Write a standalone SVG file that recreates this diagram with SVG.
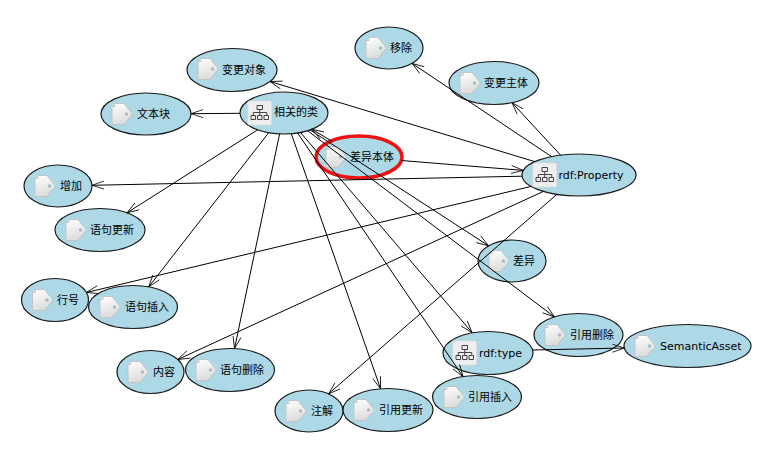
<svg xmlns="http://www.w3.org/2000/svg" width="773" height="460" viewBox="0 0 773 460">
<style>
.n{fill:#add8e6;stroke:#1a1a1a;stroke-width:1.2}
.sel{fill:#add8e6;stroke:#ee1111;stroke-width:3.5}
text{font-family:"DejaVu Sans","Noto Sans CJK SC",sans-serif;font-size:11px;fill:#000}
.e line{stroke:#000;stroke-width:1;marker-end:url(#a);fill:none}
</style>
<defs>
<linearGradient id="g" x1="0" y1="0" x2="0.3" y2="1"><stop offset="0" stop-color="#fff"/><stop offset="1" stop-color="#dcdcdc"/></linearGradient>
<marker id="a" markerUnits="userSpaceOnUse" markerWidth="14" markerHeight="12" refX="12.500" refY="6" orient="auto"><path d="M0.500,2L12.500,6L0.500,10" fill="none" stroke="#000" stroke-width="0.800"/></marker>
<g id="tag"><path d="M4,-10.500H13L21.500,0L13,10.500H1V-7.500Z" fill="url(#g)" stroke="#c4c4c4" stroke-width="1"/><path d="M1,-7.500L4,-7.500V-10.500" fill="none" stroke="#c4c4c4"/><circle cx="15.500" cy="0" r="1.700" fill="#a5bcc6"/></g>
<g id="cls"><rect x="0" y="-12" width="23.500" height="24" rx="1.500" fill="#eeeeee" stroke="#dddddd"/><path d="M9,-7.500h5.500v4h-5.500zM3,2.500h4.500v4h-4.500zM9.500,2.500h4.500v4h-4.500zM16,2.500h4.500v4h-4.500zM11.750,-3.500v3M5.250,2.500v-3h13.500v3M11.750,-0.500v3" fill="none" stroke="#444" stroke-width="1"/></g>
</defs>
<g id="n1"><ellipse class="n" cx="232" cy="70" rx="45" ry="21.500"/><use href="#tag" x="197" y="69"/><text x="222" y="74">变更对象</text></g>
<g id="n2"><ellipse class="n" cx="389" cy="48" rx="34" ry="21"/><use href="#tag" x="365" y="48"/><text x="390" y="52">移除</text></g>
<g id="n3"><ellipse class="n" cx="494" cy="83" rx="45" ry="21.500"/><use href="#tag" x="459" y="83"/><text x="484" y="87">变更主体</text></g>
<g id="n4"><ellipse class="n" cx="146" cy="114" rx="45" ry="21"/><use href="#tag" x="111" y="114"/><text x="137" y="118">文本块</text></g>
<g id="n5"><ellipse class="n" cx="284" cy="113" rx="44" ry="21"/><use href="#cls" x="248" y="113"/><text x="274" y="116">相关的类</text></g>
<g id="n6"><ellipse class="sel" cx="359" cy="157" rx="43" ry="21"/><use href="#tag" x="325" y="157"/><text x="350" y="161">差异本体</text></g>
<g id="n7"><ellipse class="n" cx="58" cy="186" rx="34" ry="21"/><use href="#tag" x="34" y="186"/><text x="60" y="190">增加</text></g>
<g id="n8"><ellipse class="n" cx="579" cy="175" rx="57" ry="21"/><use href="#cls" x="533" y="175"/><text x="558.500" y="179">rdf:Property</text></g>
<g id="n9"><ellipse class="n" cx="100" cy="230" rx="45" ry="21.500"/><use href="#tag" x="65" y="230"/><text x="90" y="234">语句更新</text></g>
<g id="n10"><ellipse class="n" cx="512" cy="261" rx="34" ry="21"/><use href="#tag" x="488" y="261"/><text x="513" y="265">差异</text></g>
<g id="n11"><ellipse class="n" cx="55" cy="300" rx="33.500" ry="21.500"/><use href="#tag" x="31.500" y="300"/><text x="57" y="304">行号</text></g>
<g id="n12"><ellipse class="n" cx="133" cy="307" rx="44.500" ry="21.500"/><use href="#tag" x="99" y="307"/><text x="125" y="311">语句插入</text></g>
<g id="n13"><ellipse class="n" cx="150.500" cy="372" rx="33.500" ry="21.500"/><use href="#tag" x="127" y="372"/><text x="153" y="376">内容</text></g>
<g id="n14"><ellipse class="n" cx="230" cy="370" rx="44.500" ry="21.500"/><use href="#tag" x="195" y="370"/><text x="220" y="374">语句删除</text></g>
<g id="n15"><ellipse class="n" cx="309" cy="411" rx="34" ry="21"/><use href="#tag" x="285" y="411"/><text x="311" y="415">注解</text></g>
<g id="n16"><ellipse class="n" cx="388" cy="410" rx="45" ry="21.500"/><use href="#tag" x="353" y="410"/><text x="379" y="414">引用更新</text></g>
<g id="n17"><ellipse class="n" cx="477" cy="397" rx="44.500" ry="21.500"/><use href="#tag" x="443" y="397"/><text x="468" y="401">引用插入</text></g>
<g id="n18"><ellipse class="n" cx="488" cy="353" rx="45" ry="21.500"/><use href="#cls" x="453" y="353"/><text x="479" y="357">rdf:type</text></g>
<g id="n19"><ellipse class="n" cx="578.500" cy="335" rx="44.500" ry="21.500"/><use href="#tag" x="544" y="335"/><text x="570" y="339">引用删除</text></g>
<g id="n20"><ellipse class="n" cx="687.500" cy="346" rx="63.500" ry="21.500"/><use href="#tag" x="634" y="346"/><text x="660" y="350">SemanticAsset</text></g>
<g id="connectors" class="e">
<line x1="535" y1="161.700" x2="270" y2="81.500"/>
<line x1="551.500" y1="156.600" x2="412" y2="63.400"/>
<line x1="560.600" y1="155.100" x2="512" y2="102.700"/>
<line x1="522" y1="176.200" x2="92" y2="185.300"/>
<line x1="531.200" y1="186.400" x2="86.400" y2="292.500"/>
<line x1="543.400" y1="191.400" x2="177.700" y2="359.500"/>
<line x1="556.900" y1="194.300" x2="328.600" y2="393.800"/>
<line x1="401.400" y1="160.500" x2="523.300" y2="170.400"/>
<line x1="331.500" y1="140.900" x2="311.800" y2="129.300"/>
<line x1="240" y1="113.300" x2="191" y2="113.700"/>
<line x1="257.600" y1="129.800" x2="127" y2="212.800"/>
<line x1="268.700" y1="132.700" x2="148.700" y2="286.900"/>
<line x1="279.600" y1="133.900" x2="234.500" y2="348.600"/>
<line x1="291.300" y1="133.700" x2="380.600" y2="388.800"/>
<line x1="297.600" y1="133" x2="463" y2="376.600"/>
<line x1="300.500" y1="132.500" x2="472" y2="332.500"/>
<line x1="307.500" y1="130.700" x2="554.500" y2="316.900"/>
<line x1="310" y1="129.900" x2="488.600" y2="245.800"/>
<line x1="533" y1="350" x2="624.400" y2="348"/>
</g>
</svg>
